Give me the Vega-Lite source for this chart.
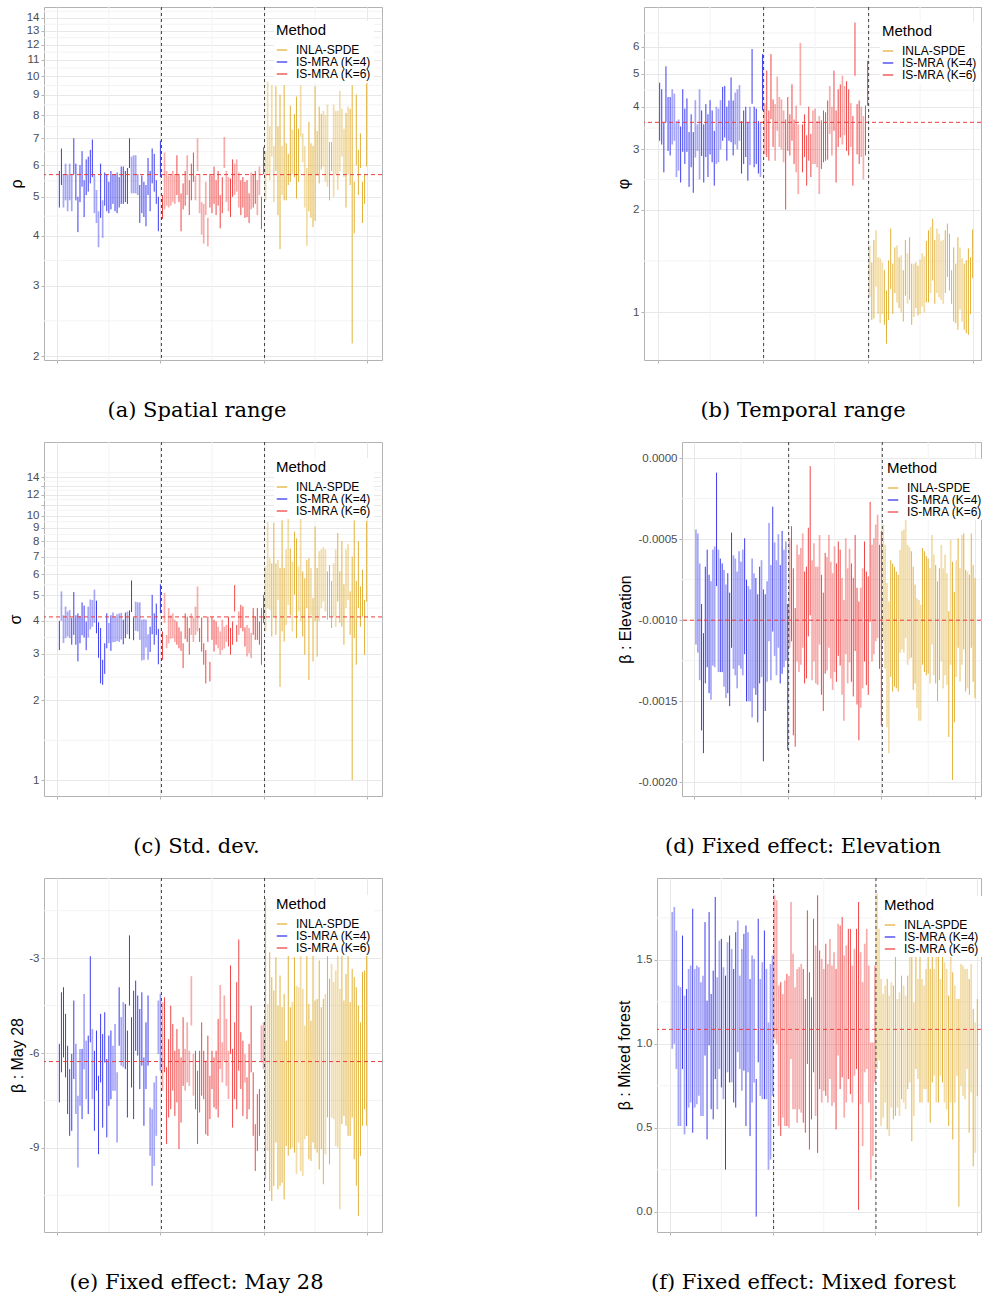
{
"$schema":"https://vega.github.io/schema/vega-lite/v6.json",
"padding":{"left":6,"top":6,"right":0,"bottom":0},
"background":"white",
"datasets":{
"a":[
{"i":1,"m":"B","o":1,"l":4.7,"h":5.8},{"i":2,"m":"B","o":1,"l":5.35,"h":6.6},{"i":3,"m":"B","o":0,"l":4.7,"h":5.7},{"i":4,"m":"B","o":0,"l":4.9,"h":6.05},{"i":5,"m":"B","o":0,"l":4.6,"h":5.7},{"i":6,"m":"B","o":0,"l":4.9,"h":6.05},{"i":7,"m":"B","o":0,"l":4.6,"h":5.7},{"i":8,"m":"B","o":1,"l":5.7,"h":7.0},{"i":9,"m":"B","o":1,"l":4.9,"h":6.05},{"i":10,"m":"B","o":1,"l":4.08,"h":5.0},
{"i":11,"m":"B","o":1,"l":4.85,"h":6.0},{"i":12,"m":"B","o":1,"l":5.3,"h":6.5},{"i":13,"m":"B","o":1,"l":4.45,"h":5.5},{"i":14,"m":"B","o":1,"l":5.05,"h":6.2},{"i":15,"m":"B","o":1,"l":5.15,"h":6.3},{"i":16,"m":"B","o":1,"l":5.4,"h":6.55},{"i":17,"m":"B","o":1,"l":5.6,"h":6.95},{"i":18,"m":"B","o":0,"l":4.55,"h":5.7},{"i":19,"m":"B","o":0,"l":4.3,"h":5.2},{"i":20,"m":"B","o":0,"l":3.74,"h":4.6},
{"i":21,"m":"B","o":1,"l":4.43,"h":6.05},{"i":22,"m":"B","o":0,"l":3.95,"h":4.9},{"i":23,"m":"B","o":1,"l":4.75,"h":5.75},{"i":24,"m":"B","o":1,"l":4.6,"h":5.7},{"i":25,"m":"B","o":1,"l":4.55,"h":5.45},{"i":26,"m":"B","o":1,"l":4.65,"h":5.8},{"i":27,"m":"B","o":1,"l":4.8,"h":5.7},{"i":28,"m":"B","o":1,"l":4.6,"h":5.7},{"i":29,"m":"B","o":1,"l":4.55,"h":5.75},{"i":30,"m":"B","o":1,"l":4.7,"h":5.6},
{"i":31,"m":"B","o":1,"l":4.8,"h":5.95},{"i":32,"m":"B","o":1,"l":4.8,"h":5.95},{"i":33,"m":"B","o":1,"l":4.85,"h":5.8},{"i":34,"m":"B","o":1,"l":4.8,"h":5.9},{"i":35,"m":"B","o":1,"l":5.9,"h":7.0},{"i":36,"m":"B","o":0,"l":5.1,"h":6.3},{"i":37,"m":"B","o":0,"l":5.1,"h":6.35},{"i":38,"m":"B","o":0,"l":5.1,"h":6.35},{"i":39,"m":"B","o":0,"l":5.05,"h":5.7},{"i":40,"m":"B","o":1,"l":4.3,"h":5.35},
{"i":41,"m":"B","o":1,"l":4.55,"h":5.65},{"i":42,"m":"B","o":1,"l":4.45,"h":5.45},{"i":43,"m":"B","o":1,"l":4.22,"h":5.35},{"i":44,"m":"B","o":1,"l":5.05,"h":6.25},{"i":45,"m":"B","o":1,"l":4.6,"h":5.8},{"i":46,"m":"B","o":1,"l":5.4,"h":6.6},{"i":47,"m":"B","o":1,"l":5.15,"h":6.4},{"i":48,"m":"B","o":1,"l":4.8,"h":5.5},{"i":49,"m":"B","o":1,"l":4.1,"h":5.0},{"i":50,"m":"B","o":1,"l":5.6,"h":6.9},
{"i":51,"m":"C","o":1,"l":4.4,"h":5.05},{"i":52,"m":"C","o":0,"l":4.65,"h":6.45},{"i":53,"m":"C","o":0,"l":4.75,"h":5.8},{"i":54,"m":"C","o":0,"l":4.7,"h":5.65},{"i":55,"m":"C","o":0,"l":4.75,"h":5.7},{"i":56,"m":"C","o":0,"l":4.85,"h":5.8},{"i":57,"m":"C","o":0,"l":4.8,"h":5.7},{"i":58,"m":"C","o":1,"l":5.05,"h":6.35},{"i":59,"m":"C","o":1,"l":4.85,"h":5.7},{"i":60,"m":"C","o":1,"l":4.1,"h":5.1},
{"i":61,"m":"C","o":1,"l":4.65,"h":5.4},{"i":62,"m":"C","o":1,"l":4.75,"h":5.8},{"i":63,"m":"C","o":0,"l":5.05,"h":6.35},{"i":64,"m":"C","o":1,"l":4.5,"h":5.5},{"i":65,"m":"C","o":1,"l":4.9,"h":6.05},{"i":66,"m":"C","o":1,"l":5.45,"h":6.45},{"i":67,"m":"C","o":0,"l":4.9,"h":5.65},{"i":68,"m":"C","o":0,"l":5.8,"h":7.0},{"i":69,"m":"C","o":0,"l":4.55,"h":5.7},{"i":70,"m":"C","o":0,"l":4.02,"h":4.85},
{"i":71,"m":"C","o":0,"l":3.82,"h":4.8},{"i":72,"m":"C","o":0,"l":4.5,"h":5.45},{"i":73,"m":"C","o":0,"l":3.76,"h":4.43},{"i":74,"m":"C","o":1,"l":4.7,"h":5.7},{"i":75,"m":"C","o":1,"l":4.55,"h":5.65},{"i":76,"m":"C","o":1,"l":4.8,"h":5.95},{"i":77,"m":"C","o":1,"l":4.5,"h":5.5},{"i":78,"m":"C","o":1,"l":4.75,"h":5.8},{"i":79,"m":"C","o":1,"l":4.17,"h":5.05},{"i":80,"m":"C","o":1,"l":4.55,"h":5.6},
{"i":81,"m":"C","o":0,"l":5.9,"h":7.05},{"i":82,"m":"C","o":0,"l":4.85,"h":5.8},{"i":83,"m":"C","o":0,"l":4.6,"h":5.6},{"i":84,"m":"C","o":1,"l":4.45,"h":5.55},{"i":85,"m":"C","o":1,"l":5.0,"h":6.2},{"i":86,"m":"C","o":0,"l":5.05,"h":6.05},{"i":87,"m":"C","o":0,"l":5.15,"h":6.2},{"i":88,"m":"C","o":0,"l":4.7,"h":5.75},{"i":89,"m":"C","o":1,"l":4.5,"h":5.5},{"i":90,"m":"C","o":1,"l":4.7,"h":5.6},
{"i":91,"m":"C","o":1,"l":4.43,"h":5.45},{"i":92,"m":"C","o":1,"l":4.45,"h":5.5},{"i":93,"m":"C","o":1,"l":4.3,"h":5.1},{"i":94,"m":"C","o":0,"l":4.65,"h":5.75},{"i":95,"m":"C","o":1,"l":4.7,"h":5.7},{"i":96,"m":"C","o":1,"l":4.8,"h":5.8},{"i":97,"m":"C","o":0,"l":4.5,"h":5.5},{"i":98,"m":"C","o":0,"l":5.05,"h":5.95},{"i":99,"m":"C","o":1,"l":4.15,"h":5.0},{"i":100,"m":"C","o":1,"l":5.7,"h":6.65},
{"i":101,"m":"A","o":0,"l":4.9,"h":6.5},{"i":102,"m":"A","o":0,"l":5.7,"h":9.7},{"i":103,"m":"A","o":0,"l":5.5,"h":7.5},{"i":104,"m":"A","o":0,"l":6.3,"h":9.5},{"i":105,"m":"A","o":0,"l":4.85,"h":6.7},{"i":106,"m":"A","o":1,"l":5.8,"h":9.45},{"i":107,"m":"A","o":1,"l":4.5,"h":7.5},{"i":108,"m":"A","o":1,"l":3.7,"h":9.0},{"i":109,"m":"A","o":0,"l":5.05,"h":6.7},{"i":110,"m":"A","o":1,"l":4.9,"h":9.5},
{"i":111,"m":"A","o":1,"l":4.9,"h":6.8},{"i":112,"m":"A","o":1,"l":5.35,"h":6.4},{"i":113,"m":"A","o":1,"l":5.45,"h":8.45},{"i":114,"m":"A","o":0,"l":5.7,"h":7.35},{"i":115,"m":"A","o":1,"l":5.6,"h":8.05},{"i":116,"m":"A","o":1,"l":4.95,"h":8.9},{"i":117,"m":"A","o":1,"l":5.45,"h":7.4},{"i":118,"m":"A","o":0,"l":7.05,"h":9.5},{"i":119,"m":"A","o":0,"l":6.1,"h":7.2},{"i":120,"m":"A","o":0,"l":4.7,"h":6.7},
{"i":121,"m":"A","o":0,"l":3.77,"h":5.9},{"i":122,"m":"A","o":1,"l":4.6,"h":7.7},{"i":123,"m":"A","o":1,"l":4.43,"h":6.8},{"i":124,"m":"A","o":1,"l":4.2,"h":6.7},{"i":125,"m":"A","o":1,"l":4.35,"h":9.45},{"i":126,"m":"A","o":1,"l":5.65,"h":7.3},{"i":127,"m":"A","o":1,"l":5.4,"h":8.4},{"i":128,"m":"A","o":1,"l":5.85,"h":8.05},{"i":129,"m":"A","o":0,"l":5.95,"h":8.2},{"i":130,"m":"A","o":0,"l":5.45,"h":8.0},
{"i":131,"m":"A","o":0,"l":5.3,"h":8.5},{"i":132,"m":"A","o":1,"l":4.9,"h":6.85},{"i":133,"m":"A","o":1,"l":5.8,"h":6.85},{"i":134,"m":"A","o":0,"l":5.0,"h":8.5},{"i":135,"m":"A","o":0,"l":5.7,"h":8.2},{"i":136,"m":"A","o":0,"l":5.2,"h":8.2},{"i":137,"m":"A","o":0,"l":5.8,"h":9.2},{"i":138,"m":"A","o":0,"l":6.3,"h":8.3},{"i":139,"m":"A","o":0,"l":5.6,"h":7.4},{"i":140,"m":"A","o":1,"l":4.7,"h":8.1},
{"i":141,"m":"A","o":0,"l":5.7,"h":8.4},{"i":142,"m":"A","o":1,"l":5.35,"h":8.3},{"i":143,"m":"A","o":1,"l":2.15,"h":9.5},{"i":144,"m":"A","o":1,"l":4.05,"h":5.45},{"i":145,"m":"A","o":1,"l":6.0,"h":9.0},{"i":146,"m":"A","o":1,"l":5.05,"h":6.55},{"i":147,"m":"A","o":1,"l":5.9,"h":7.2},{"i":148,"m":"A","o":1,"l":4.3,"h":5.45},{"i":149,"m":"A","o":1,"l":4.8,"h":5.7},{"i":150,"m":"A","o":1,"l":5.95,"h":9.6}
],
"b":[
{"i":1,"m":"B","o":1,"l":3.18,"h":4.7},{"i":2,"m":"B","o":1,"l":3.1,"h":4.5},{"i":3,"m":"B","o":1,"l":2.57,"h":3.6},{"i":4,"m":"B","o":1,"l":3.6,"h":5.25},{"i":5,"m":"B","o":1,"l":2.97,"h":4.27},{"i":6,"m":"B","o":1,"l":2.88,"h":4.27},{"i":7,"m":"B","o":0,"l":3.1,"h":4.5},{"i":8,"m":"B","o":0,"l":3.18,"h":4.37},{"i":9,"m":"B","o":0,"l":2.49,"h":3.63},{"i":10,"m":"B","o":0,"l":2.6,"h":3.67},
{"i":11,"m":"B","o":1,"l":2.4,"h":3.5},{"i":12,"m":"B","o":1,"l":2.95,"h":4.5},{"i":13,"m":"B","o":1,"l":2.72,"h":3.95},{"i":14,"m":"B","o":1,"l":2.95,"h":4.23},{"i":15,"m":"B","o":1,"l":2.33,"h":3.37},{"i":16,"m":"B","o":1,"l":2.66,"h":3.8},{"i":17,"m":"B","o":1,"l":2.24,"h":3.37},{"i":18,"m":"B","o":0,"l":2.84,"h":4.18},{"i":19,"m":"B","o":0,"l":2.97,"h":3.55},{"i":20,"m":"B","o":0,"l":2.45,"h":4.5},
{"i":21,"m":"B","o":1,"l":2.87,"h":3.9},{"i":22,"m":"B","o":1,"l":2.4,"h":3.55},{"i":23,"m":"B","o":1,"l":2.85,"h":4.07},{"i":24,"m":"B","o":1,"l":2.49,"h":3.8},{"i":25,"m":"B","o":1,"l":2.9,"h":4.18},{"i":26,"m":"B","o":1,"l":2.75,"h":3.9},{"i":27,"m":"B","o":1,"l":2.35,"h":3.4},{"i":28,"m":"B","o":0,"l":2.72,"h":4.0},{"i":29,"m":"B","o":0,"l":2.75,"h":3.95},{"i":30,"m":"B","o":0,"l":3.0,"h":4.18},
{"i":31,"m":"B","o":1,"l":3.18,"h":4.57},{"i":32,"m":"B","o":1,"l":3.25,"h":4.6},{"i":33,"m":"B","o":1,"l":2.78,"h":4.0},{"i":34,"m":"B","o":1,"l":3.18,"h":4.17},{"i":35,"m":"B","o":1,"l":3.15,"h":4.87},{"i":36,"m":"B","o":1,"l":2.88,"h":4.17},{"i":37,"m":"B","o":0,"l":3.1,"h":4.4},{"i":38,"m":"B","o":0,"l":3.0,"h":4.5},{"i":39,"m":"B","o":0,"l":3.18,"h":4.63},{"i":40,"m":"B","o":1,"l":2.55,"h":3.63},
{"i":41,"m":"B","o":1,"l":2.72,"h":3.9},{"i":42,"m":"B","o":1,"l":2.85,"h":4.0},{"i":43,"m":"B","o":1,"l":2.43,"h":3.6},{"i":44,"m":"B","o":0,"l":2.7,"h":4.0},{"i":45,"m":"B","o":1,"l":4.08,"h":5.9},{"i":46,"m":"B","o":1,"l":2.66,"h":4.0},{"i":47,"m":"B","o":1,"l":2.72,"h":3.95},{"i":48,"m":"B","o":1,"l":2.55,"h":3.63},{"i":49,"m":"B","o":0,"l":2.49,"h":3.6},{"i":50,"m":"B","o":1,"l":3.9,"h":5.7},
{"i":51,"m":"C","o":0,"l":2.9,"h":4.1},{"i":52,"m":"C","o":1,"l":2.85,"h":5.1},{"i":53,"m":"C","o":1,"l":2.78,"h":3.9},{"i":54,"m":"C","o":1,"l":3.68,"h":5.7},{"i":55,"m":"C","o":1,"l":3.05,"h":4.2},{"i":56,"m":"C","o":0,"l":2.78,"h":4.07},{"i":57,"m":"C","o":0,"l":3.4,"h":4.9},{"i":58,"m":"C","o":0,"l":3.05,"h":4.27},{"i":59,"m":"C","o":0,"l":3.0,"h":4.2},{"i":60,"m":"C","o":0,"l":2.75,"h":3.9},
{"i":61,"m":"C","o":1,"l":2.0,"h":3.67},{"i":62,"m":"C","o":1,"l":2.97,"h":4.27},{"i":63,"m":"C","o":1,"l":2.88,"h":3.8},{"i":64,"m":"C","o":1,"l":3.18,"h":4.65},{"i":65,"m":"C","o":1,"l":2.72,"h":3.67},{"i":66,"m":"C","o":0,"l":2.57,"h":4.03},{"i":67,"m":"C","o":0,"l":2.22,"h":3.55},{"i":68,"m":"C","o":0,"l":4.03,"h":6.15},{"i":69,"m":"C","o":1,"l":2.57,"h":3.55},{"i":70,"m":"C","o":1,"l":2.85,"h":3.8},
{"i":71,"m":"C","o":1,"l":2.35,"h":3.3},{"i":72,"m":"C","o":1,"l":2.78,"h":4.0},{"i":73,"m":"C","o":1,"l":2.49,"h":3.33},{"i":74,"m":"C","o":0,"l":2.72,"h":3.9},{"i":75,"m":"C","o":0,"l":2.72,"h":3.95},{"i":76,"m":"C","o":0,"l":2.66,"h":3.63},{"i":77,"m":"C","o":0,"l":2.22,"h":3.76},{"i":78,"m":"C","o":1,"l":2.63,"h":3.65},{"i":79,"m":"C","o":1,"l":2.75,"h":3.9},{"i":80,"m":"C","o":1,"l":2.78,"h":3.85},
{"i":81,"m":"C","o":1,"l":2.8,"h":4.17},{"i":82,"m":"C","o":0,"l":3.33,"h":4.6},{"i":83,"m":"C","o":0,"l":2.88,"h":4.0},{"i":84,"m":"C","o":1,"l":3.4,"h":5.1},{"i":85,"m":"C","o":1,"l":2.4,"h":3.9},{"i":86,"m":"C","o":1,"l":3.05,"h":4.5},{"i":87,"m":"C","o":1,"l":3.25,"h":4.65},{"i":88,"m":"C","o":0,"l":3.1,"h":4.93},{"i":89,"m":"C","o":0,"l":3.3,"h":4.6},{"i":90,"m":"C","o":1,"l":2.97,"h":4.75},
{"i":91,"m":"C","o":1,"l":2.88,"h":4.5},{"i":92,"m":"C","o":0,"l":3.05,"h":4.1},{"i":93,"m":"C","o":1,"l":2.35,"h":3.76},{"i":94,"m":"C","o":1,"l":4.93,"h":7.05},{"i":95,"m":"C","o":1,"l":2.9,"h":4.07},{"i":96,"m":"C","o":1,"l":2.72,"h":4.17},{"i":97,"m":"C","o":0,"l":2.85,"h":4.0},{"i":98,"m":"C","o":0,"l":2.45,"h":3.76},{"i":99,"m":"C","o":1,"l":2.88,"h":4.03},{"i":100,"m":"C","o":1,"l":4.03,"h":5.45},
{"i":101,"m":"A","o":0,"l":1.11,"h":1.57},{"i":102,"m":"A","o":1,"l":0.95,"h":1.4},{"i":103,"m":"A","o":1,"l":0.96,"h":1.63},{"i":104,"m":"A","o":0,"l":1.19,"h":1.74},{"i":105,"m":"A","o":0,"l":0.99,"h":1.45},{"i":106,"m":"A","o":0,"l":0.93,"h":1.44},{"i":107,"m":"A","o":0,"l":0.99,"h":1.4},{"i":108,"m":"A","o":1,"l":0.92,"h":1.33},{"i":109,"m":"A","o":1,"l":0.81,"h":1.16},{"i":110,"m":"A","o":1,"l":0.95,"h":1.42},
{"i":111,"m":"A","o":1,"l":1.17,"h":1.76},{"i":112,"m":"A","o":1,"l":0.99,"h":1.39},{"i":113,"m":"A","o":1,"l":1.14,"h":1.55},{"i":114,"m":"A","o":0,"l":1.07,"h":1.57},{"i":115,"m":"A","o":1,"l":1.03,"h":1.45},{"i":116,"m":"A","o":0,"l":1.0,"h":1.47},{"i":117,"m":"A","o":1,"l":0.94,"h":1.33},{"i":118,"m":"A","o":1,"l":1.12,"h":1.63},{"i":119,"m":"A","o":0,"l":1.06,"h":1.49},{"i":120,"m":"A","o":1,"l":1.09,"h":1.66},
{"i":121,"m":"A","o":1,"l":0.92,"h":1.39},{"i":122,"m":"A","o":0,"l":0.97,"h":1.39},{"i":123,"m":"A","o":1,"l":1.03,"h":1.4},{"i":124,"m":"A","o":1,"l":0.98,"h":1.37},{"i":125,"m":"A","o":0,"l":0.99,"h":1.43},{"i":126,"m":"A","o":0,"l":1.04,"h":1.49},{"i":127,"m":"A","o":0,"l":1.0,"h":1.46},{"i":128,"m":"A","o":1,"l":1.07,"h":1.62},{"i":129,"m":"A","o":1,"l":1.07,"h":1.74},{"i":130,"m":"A","o":0,"l":1.14,"h":1.78},
{"i":131,"m":"A","o":1,"l":1.24,"h":1.88},{"i":132,"m":"A","o":1,"l":1.06,"h":1.63},{"i":133,"m":"A","o":0,"l":1.14,"h":1.76},{"i":134,"m":"A","o":0,"l":1.11,"h":1.7},{"i":135,"m":"A","o":0,"l":1.09,"h":1.62},{"i":136,"m":"A","o":0,"l":1.06,"h":1.63},{"i":137,"m":"A","o":1,"l":1.14,"h":1.74},{"i":138,"m":"A","o":1,"l":1.27,"h":1.82},{"i":139,"m":"A","o":1,"l":1.16,"h":1.7},{"i":140,"m":"A","o":1,"l":1.06,"h":1.33},
{"i":141,"m":"A","o":1,"l":0.94,"h":1.55},{"i":142,"m":"A","o":1,"l":0.93,"h":1.39},{"i":143,"m":"A","o":1,"l":0.89,"h":1.66},{"i":144,"m":"A","o":0,"l":1.02,"h":1.55},{"i":145,"m":"A","o":0,"l":0.94,"h":1.44},{"i":146,"m":"A","o":1,"l":0.89,"h":1.39},{"i":147,"m":"A","o":1,"l":0.87,"h":1.42},{"i":148,"m":"A","o":1,"l":0.86,"h":1.54},{"i":149,"m":"A","o":1,"l":0.99,"h":1.45},{"i":150,"m":"A","o":1,"l":1.26,"h":1.75}
],
"c":[
{"i":1,"m":"B","o":1,"l":3.1,"h":4.0},{"i":2,"m":"B","o":0,"l":4.0,"h":5.17},{"i":3,"m":"B","o":0,"l":3.3,"h":4.2},{"i":4,"m":"B","o":0,"l":3.44,"h":4.53},{"i":5,"m":"B","o":0,"l":3.49,"h":4.34},{"i":6,"m":"B","o":0,"l":3.44,"h":4.4},{"i":7,"m":"B","o":1,"l":3.25,"h":4.1},{"i":8,"m":"B","o":1,"l":3.54,"h":5.14},{"i":9,"m":"B","o":1,"l":3.25,"h":4.2},{"i":10,"m":"B","o":1,"l":2.81,"h":4.27},
{"i":11,"m":"B","o":1,"l":3.29,"h":4.17},{"i":12,"m":"B","o":1,"l":3.53,"h":4.7},{"i":13,"m":"B","o":1,"l":3.46,"h":4.57},{"i":14,"m":"B","o":1,"l":3.1,"h":3.98},{"i":15,"m":"B","o":0,"l":3.46,"h":4.53},{"i":16,"m":"B","o":0,"l":3.71,"h":4.82},{"i":17,"m":"B","o":0,"l":3.8,"h":4.8},{"i":18,"m":"B","o":0,"l":3.93,"h":5.25},{"i":19,"m":"B","o":1,"l":3.59,"h":4.77},{"i":20,"m":"B","o":1,"l":2.9,"h":3.95},
{"i":21,"m":"B","o":1,"l":2.32,"h":3.76},{"i":22,"m":"B","o":1,"l":2.29,"h":2.85},{"i":23,"m":"B","o":1,"l":2.52,"h":3.29},{"i":24,"m":"B","o":1,"l":3.15,"h":4.27},{"i":25,"m":"B","o":0,"l":3.3,"h":3.93},{"i":26,"m":"B","o":1,"l":3.08,"h":4.2},{"i":27,"m":"B","o":0,"l":3.32,"h":4.3},{"i":28,"m":"B","o":0,"l":3.33,"h":4.15},{"i":29,"m":"B","o":0,"l":3.36,"h":4.24},{"i":30,"m":"B","o":0,"l":3.33,"h":4.27},
{"i":31,"m":"B","o":0,"l":3.4,"h":4.29},{"i":32,"m":"B","o":1,"l":3.26,"h":4.04},{"i":33,"m":"B","o":1,"l":3.44,"h":4.3},{"i":34,"m":"B","o":0,"l":3.56,"h":4.34},{"i":35,"m":"B","o":1,"l":3.42,"h":4.38},{"i":36,"m":"B","o":1,"l":4.32,"h":5.69},{"i":37,"m":"B","o":1,"l":3.38,"h":4.12},{"i":38,"m":"B","o":0,"l":3.67,"h":4.73},{"i":39,"m":"B","o":0,"l":3.65,"h":4.7},{"i":40,"m":"B","o":0,"l":3.39,"h":4.7},
{"i":41,"m":"B","o":0,"l":2.83,"h":4.04},{"i":42,"m":"B","o":0,"l":2.85,"h":4.06},{"i":43,"m":"B","o":0,"l":3.17,"h":4.04},{"i":44,"m":"B","o":0,"l":2.85,"h":3.56},{"i":45,"m":"B","o":1,"l":3.05,"h":3.8},{"i":46,"m":"B","o":1,"l":3.56,"h":5.02},{"i":47,"m":"B","o":1,"l":3.25,"h":4.27},{"i":48,"m":"B","o":1,"l":3.54,"h":4.65},{"i":49,"m":"B","o":1,"l":2.74,"h":3.73},{"i":50,"m":"B","o":1,"l":4.28,"h":5.5},
{"i":51,"m":"C","o":1,"l":2.85,"h":3.65},{"i":52,"m":"C","o":0,"l":3.93,"h":5.1},{"i":53,"m":"C","o":0,"l":3.15,"h":3.54},{"i":54,"m":"C","o":0,"l":3.29,"h":4.47},{"i":55,"m":"C","o":0,"l":3.42,"h":4.2},{"i":56,"m":"C","o":0,"l":3.44,"h":4.27},{"i":57,"m":"C","o":0,"l":3.33,"h":4.04},{"i":58,"m":"C","o":1,"l":3.25,"h":3.98},{"i":59,"m":"C","o":1,"l":3.15,"h":3.78},{"i":60,"m":"C","o":1,"l":3.08,"h":3.65},
{"i":61,"m":"C","o":1,"l":2.65,"h":3.29},{"i":62,"m":"C","o":1,"l":3.42,"h":4.27},{"i":63,"m":"C","o":1,"l":3.33,"h":4.15},{"i":64,"m":"C","o":1,"l":2.98,"h":3.76},{"i":65,"m":"C","o":0,"l":3.54,"h":4.27},{"i":66,"m":"C","o":0,"l":3.33,"h":4.12},{"i":67,"m":"C","o":0,"l":3.54,"h":4.53},{"i":68,"m":"C","o":0,"l":3.65,"h":5.4},{"i":69,"m":"C","o":1,"l":3.33,"h":3.76},{"i":70,"m":"C","o":1,"l":3.06,"h":4.12},
{"i":71,"m":"C","o":1,"l":2.73,"h":3.29},{"i":72,"m":"C","o":1,"l":2.32,"h":3.1},{"i":73,"m":"C","o":1,"l":3.33,"h":4.15},{"i":74,"m":"C","o":1,"l":2.36,"h":2.8},{"i":75,"m":"C","o":1,"l":3.39,"h":4.15},{"i":76,"m":"C","o":1,"l":3.06,"h":4.04},{"i":77,"m":"C","o":1,"l":3.25,"h":3.98},{"i":78,"m":"C","o":0,"l":3.15,"h":3.8},{"i":79,"m":"C","o":0,"l":2.98,"h":3.65},{"i":80,"m":"C","o":0,"l":3.1,"h":4.04},
{"i":81,"m":"C","o":0,"l":3.15,"h":3.8},{"i":82,"m":"C","o":0,"l":3.33,"h":3.86},{"i":83,"m":"C","o":1,"l":3.2,"h":4.15},{"i":84,"m":"C","o":1,"l":2.98,"h":3.76},{"i":85,"m":"C","o":1,"l":3.25,"h":3.98},{"i":86,"m":"C","o":1,"l":4.34,"h":5.46},{"i":87,"m":"C","o":1,"l":3.33,"h":3.86},{"i":88,"m":"C","o":0,"l":3.54,"h":4.34},{"i":89,"m":"C","o":1,"l":3.76,"h":4.6},{"i":90,"m":"C","o":1,"l":3.65,"h":4.53},
{"i":91,"m":"C","o":1,"l":3.2,"h":3.78},{"i":92,"m":"C","o":0,"l":2.93,"h":3.86},{"i":93,"m":"C","o":0,"l":3.02,"h":3.76},{"i":94,"m":"C","o":0,"l":2.89,"h":3.6},{"i":95,"m":"C","o":1,"l":3.54,"h":4.47},{"i":96,"m":"C","o":1,"l":3.39,"h":4.15},{"i":97,"m":"C","o":1,"l":3.39,"h":4.47},{"i":98,"m":"C","o":1,"l":3.25,"h":3.98},{"i":99,"m":"C","o":1,"l":2.73,"h":4.47},{"i":100,"m":"C","o":1,"l":3.93,"h":5.02},
{"i":101,"m":"A","o":0,"l":3.65,"h":6.42},{"i":102,"m":"A","o":0,"l":4.47,"h":9.45},{"i":103,"m":"A","o":0,"l":4.4,"h":6.9},{"i":104,"m":"A","o":1,"l":3.49,"h":6.6},{"i":105,"m":"A","o":1,"l":4.15,"h":9.4},{"i":106,"m":"A","o":1,"l":3.54,"h":6.6},{"i":107,"m":"A","o":0,"l":4.8,"h":6.8},{"i":108,"m":"A","o":1,"l":2.25,"h":6.34},{"i":109,"m":"A","o":1,"l":3.65,"h":9.6},{"i":110,"m":"A","o":1,"l":3.34,"h":6.34},
{"i":111,"m":"A","o":0,"l":3.86,"h":7.45},{"i":112,"m":"A","o":0,"l":4.6,"h":9.75},{"i":113,"m":"A","o":1,"l":4.2,"h":7.5},{"i":114,"m":"A","o":0,"l":3.65,"h":6.7},{"i":115,"m":"A","o":1,"l":5.02,"h":8.7},{"i":116,"m":"A","o":1,"l":3.44,"h":8.2},{"i":117,"m":"A","o":0,"l":4.34,"h":6.42},{"i":118,"m":"A","o":0,"l":3.98,"h":9.75},{"i":119,"m":"A","o":1,"l":3.49,"h":6.15},{"i":120,"m":"A","o":1,"l":2.98,"h":5.8},
{"i":121,"m":"A","o":1,"l":4.47,"h":6.8},{"i":122,"m":"A","o":1,"l":2.39,"h":6.9},{"i":123,"m":"A","o":0,"l":4.2,"h":6.34},{"i":124,"m":"A","o":1,"l":2.81,"h":4.88},{"i":125,"m":"A","o":1,"l":3.98,"h":9.1},{"i":126,"m":"A","o":1,"l":2.93,"h":6.34},{"i":127,"m":"A","o":0,"l":3.98,"h":7.34},{"i":128,"m":"A","o":0,"l":4.47,"h":7.45},{"i":129,"m":"A","o":0,"l":4.73,"h":7.6},{"i":130,"m":"A","o":0,"l":4.34,"h":7.45},
{"i":131,"m":"A","o":1,"l":4.04,"h":6.15},{"i":132,"m":"A","o":1,"l":4.15,"h":6.5},{"i":133,"m":"A","o":1,"l":3.76,"h":5.66},{"i":134,"m":"A","o":0,"l":4.15,"h":6.6},{"i":135,"m":"A","o":0,"l":3.8,"h":7.45},{"i":136,"m":"A","o":1,"l":4.73,"h":8.6},{"i":137,"m":"A","o":1,"l":3.93,"h":6.15},{"i":138,"m":"A","o":1,"l":3.8,"h":8.0},{"i":139,"m":"A","o":1,"l":3.25,"h":5.5},{"i":140,"m":"A","o":0,"l":4.47,"h":7.45},
{"i":141,"m":"A","o":0,"l":4.8,"h":7.8},{"i":142,"m":"A","o":1,"l":3.54,"h":5.17},{"i":143,"m":"A","o":1,"l":1.0,"h":7.0},{"i":144,"m":"A","o":1,"l":3.44,"h":9.6},{"i":145,"m":"A","o":1,"l":2.73,"h":5.66},{"i":146,"m":"A","o":1,"l":4.47,"h":8.0},{"i":147,"m":"A","o":1,"l":3.8,"h":5.4},{"i":148,"m":"A","o":1,"l":4.15,"h":6.25},{"i":149,"m":"A","o":1,"l":2.98,"h":4.8},{"i":150,"m":"A","o":1,"l":4.73,"h":9.55}
],
"d":[
{"i":1,"m":"B","o":0,"l":-0.00115,"h":-0.00044},{"i":2,"m":"B","o":0,"l":-0.0012,"h":-0.000465},{"i":3,"m":"B","o":0,"l":-0.00137,"h":-0.00065},{"i":4,"m":"B","o":1,"l":-0.00168,"h":-0.0009},{"i":5,"m":"B","o":1,"l":-0.00182,"h":-0.00108},{"i":6,"m":"B","o":1,"l":-0.00139,"h":-0.00067},{"i":7,"m":"B","o":1,"l":-0.00129,"h":-0.000565},{"i":8,"m":"B","o":1,"l":-0.00145,"h":-0.00072},{"i":9,"m":"B","o":0,"l":-0.00149,"h":-0.00076},{"i":10,"m":"B","o":0,"l":-0.00128,"h":-0.000565},
{"i":11,"m":"B","o":0,"l":-0.00129,"h":-0.000545},{"i":12,"m":"B","o":1,"l":-0.00079,"h":-0.00009},{"i":13,"m":"B","o":0,"l":-0.00132,"h":-0.000565},{"i":14,"m":"B","o":1,"l":-0.00132,"h":-0.00062},{"i":15,"m":"B","o":1,"l":-0.00132,"h":-0.00065},{"i":16,"m":"B","o":0,"l":-0.00141,"h":-0.00069},{"i":17,"m":"B","o":0,"l":-0.00148,"h":-0.00078},{"i":18,"m":"B","o":1,"l":-0.00145,"h":-0.00071},{"i":19,"m":"B","o":1,"l":-0.00153,"h":-0.00083},{"i":20,"m":"B","o":1,"l":-0.00117,"h":-0.00046},
{"i":21,"m":"B","o":0,"l":-0.0013,"h":-0.0006},{"i":22,"m":"B","o":0,"l":-0.00134,"h":-0.00062},{"i":23,"m":"B","o":0,"l":-0.00142,"h":-0.0007},{"i":24,"m":"B","o":0,"l":-0.00128,"h":-0.000575},{"i":25,"m":"B","o":0,"l":-0.0013,"h":-0.00064},{"i":26,"m":"B","o":0,"l":-0.00134,"h":-0.000565},{"i":27,"m":"B","o":1,"l":-0.00121,"h":-0.000495},{"i":28,"m":"B","o":1,"l":-0.0015,"h":-0.00075},{"i":29,"m":"B","o":0,"l":-0.0015,"h":-0.00079},{"i":30,"m":"B","o":0,"l":-0.0015,"h":-0.00081},
{"i":31,"m":"B","o":0,"l":-0.0016,"h":-0.00062},{"i":32,"m":"B","o":0,"l":-0.00142,"h":-0.00071},{"i":33,"m":"B","o":1,"l":-0.00146,"h":-0.00074},{"i":34,"m":"B","o":1,"l":-0.00163,"h":-0.00084},{"i":35,"m":"B","o":1,"l":-0.00139,"h":-0.00067},{"i":36,"m":"B","o":0,"l":-0.00135,"h":-0.00063},{"i":37,"m":"B","o":1,"l":-0.00187,"h":-0.00081},{"i":38,"m":"B","o":1,"l":-0.00156,"h":-0.00084},{"i":39,"m":"B","o":0,"l":-0.00138,"h":-0.00076},{"i":40,"m":"B","o":0,"l":-0.00113,"h":-0.0004},
{"i":41,"m":"B","o":0,"l":-0.00137,"h":-0.00066},{"i":42,"m":"B","o":1,"l":-0.00107,"h":-0.0003},{"i":43,"m":"B","o":0,"l":-0.00122,"h":-0.00052},{"i":44,"m":"B","o":0,"l":-0.00134,"h":-0.00063},{"i":45,"m":"B","o":0,"l":-0.00117,"h":-0.00047},{"i":46,"m":"B","o":1,"l":-0.00139,"h":-0.00066},{"i":47,"m":"B","o":1,"l":-0.00133,"h":-0.00045},{"i":48,"m":"B","o":0,"l":-0.00129,"h":-0.000565},{"i":49,"m":"B","o":0,"l":-0.00125,"h":-0.000515},{"i":50,"m":"B","o":1,"l":-0.0018,"h":-0.0009},
{"i":51,"m":"C","o":0,"l":-0.00117,"h":-0.000495},{"i":52,"m":"C","o":1,"l":-0.00113,"h":-0.00042},{"i":53,"m":"C","o":1,"l":-0.00171,"h":-0.00068},{"i":54,"m":"C","o":1,"l":-0.00178,"h":-0.000925},{"i":55,"m":"C","o":0,"l":-0.001255,"h":-0.000535},{"i":56,"m":"C","o":0,"l":-0.00132,"h":-0.000595},{"i":57,"m":"C","o":0,"l":-0.001275,"h":-0.000555},{"i":58,"m":"C","o":0,"l":-0.00117,"h":-0.000465},{"i":59,"m":"C","o":1,"l":-0.00139,"h":-0.0007},{"i":60,"m":"C","o":1,"l":-0.00136,"h":-0.00067},
{"i":61,"m":"C","o":1,"l":-0.0011,"h":-0.00043},{"i":62,"m":"C","o":1,"l":-0.00097,"h":-0.00005},{"i":63,"m":"C","o":0,"l":-0.00137,"h":-0.00063},{"i":64,"m":"C","o":0,"l":-0.001255,"h":-0.000525},{"i":65,"m":"C","o":0,"l":-0.00139,"h":-0.00067},{"i":66,"m":"C","o":0,"l":-0.0014,"h":-0.00067},{"i":67,"m":"C","o":0,"l":-0.00115,"h":-0.000475},{"i":68,"m":"C","o":1,"l":-0.00146,"h":-0.00072},{"i":69,"m":"C","o":1,"l":-0.00156,"h":-0.00083},{"i":70,"m":"C","o":1,"l":-0.00133,"h":-0.000585},
{"i":71,"m":"C","o":0,"l":-0.00131,"h":-0.00061},{"i":72,"m":"C","o":0,"l":-0.00117,"h":-0.000475},{"i":73,"m":"C","o":0,"l":-0.00136,"h":-0.00064},{"i":74,"m":"C","o":0,"l":-0.00143,"h":-0.00071},{"i":75,"m":"C","o":0,"l":-0.00132,"h":-0.000545},{"i":76,"m":"C","o":1,"l":-0.00138,"h":-0.00065},{"i":77,"m":"C","o":1,"l":-0.00122,"h":-0.000515},{"i":78,"m":"C","o":1,"l":-0.00128,"h":-0.000565},{"i":79,"m":"C","o":0,"l":-0.00146,"h":-0.00074},{"i":80,"m":"C","o":0,"l":-0.00162,"h":-0.000875},
{"i":81,"m":"C","o":0,"l":-0.00121,"h":-0.000495},{"i":82,"m":"C","o":0,"l":-0.00139,"h":-0.00068},{"i":83,"m":"C","o":0,"l":-0.00126,"h":-0.00056},{"i":84,"m":"C","o":1,"l":-0.00138,"h":-0.00065},{"i":85,"m":"C","o":1,"l":-0.00147,"h":-0.00074},{"i":86,"m":"C","o":1,"l":-0.00119,"h":-0.000475},{"i":87,"m":"C","o":1,"l":-0.00152,"h":-0.0008},{"i":88,"m":"C","o":1,"l":-0.00174,"h":-0.000885},{"i":89,"m":"C","o":0,"l":-0.00154,"h":-0.0008},{"i":90,"m":"C","o":0,"l":-0.00142,"h":-0.00068},
{"i":91,"m":"C","o":1,"l":-0.001255,"h":-0.000515},{"i":92,"m":"C","o":1,"l":-0.0014,"h":-0.0007},{"i":93,"m":"C","o":1,"l":-0.00146,"h":-0.00073},{"i":94,"m":"C","o":1,"l":-0.00101,"h":-0.00027},{"i":95,"m":"C","o":0,"l":-0.001255,"h":-0.000535},{"i":96,"m":"C","o":0,"l":-0.00121,"h":-0.000495},{"i":97,"m":"C","o":0,"l":-0.00113,"h":-0.00041},{"i":98,"m":"C","o":0,"l":-0.00111,"h":-0.00035},{"i":99,"m":"C","o":1,"l":-0.0013,"h":-0.000535},{"i":100,"m":"C","o":1,"l":-0.00165,"h":-0.00045},
{"i":101,"m":"A","o":0,"l":-0.00113,"h":-0.00041},{"i":102,"m":"A","o":0,"l":-0.0013,"h":-0.000535},{"i":103,"m":"A","o":0,"l":-0.00166,"h":-0.00077},{"i":104,"m":"A","o":0,"l":-0.00182,"h":-0.000885},{"i":105,"m":"A","o":1,"l":-0.00135,"h":-0.00063},{"i":106,"m":"A","o":1,"l":-0.00144,"h":-0.00065},{"i":107,"m":"A","o":1,"l":-0.00141,"h":-0.00067},{"i":108,"m":"A","o":1,"l":-0.00142,"h":-0.0007},{"i":109,"m":"A","o":1,"l":-0.00144,"h":-0.00072},{"i":110,"m":"A","o":0,"l":-0.0012,"h":-0.000565},
{"i":111,"m":"A","o":0,"l":-0.00118,"h":-0.00045},{"i":112,"m":"A","o":0,"l":-0.0012,"h":-0.00044},{"i":113,"m":"A","o":0,"l":-0.00111,"h":-0.00038},{"i":114,"m":"A","o":0,"l":-0.001275,"h":-0.000535},{"i":115,"m":"A","o":0,"l":-0.00124,"h":-0.00055},{"i":116,"m":"A","o":1,"l":-0.00123,"h":-0.000575},{"i":117,"m":"A","o":1,"l":-0.00143,"h":-0.00067},{"i":118,"m":"A","o":1,"l":-0.00139,"h":-0.00078},{"i":119,"m":"A","o":0,"l":-0.00154,"h":-0.000865},{"i":120,"m":"A","o":0,"l":-0.00162,"h":-0.000875},
{"i":121,"m":"A","o":0,"l":-0.00162,"h":-0.000905},{"i":122,"m":"A","o":1,"l":-0.001275,"h":-0.000555},{"i":123,"m":"A","o":1,"l":-0.00132,"h":-0.000575},{"i":124,"m":"A","o":1,"l":-0.00134,"h":-0.000605},{"i":125,"m":"A","o":1,"l":-0.00133,"h":-0.00062},{"i":126,"m":"A","o":0,"l":-0.00139,"h":-0.00068},{"i":127,"m":"A","o":0,"l":-0.00115,"h":-0.000475},{"i":128,"m":"A","o":0,"l":-0.00134,"h":-0.000595},{"i":129,"m":"A","o":1,"l":-0.00139,"h":-0.00066},{"i":130,"m":"A","o":1,"l":-0.0015,"h":-0.00076},
{"i":131,"m":"A","o":1,"l":-0.00137,"h":-0.00068},{"i":132,"m":"A","o":0,"l":-0.001255,"h":-0.000535},{"i":133,"m":"A","o":0,"l":-0.00142,"h":-0.00068},{"i":134,"m":"A","o":0,"l":-0.00134,"h":-0.000595},{"i":135,"m":"A","o":0,"l":-0.0014,"h":-0.00071},{"i":136,"m":"A","o":1,"l":-0.00172,"h":-0.000945},{"i":137,"m":"A","o":0,"l":-0.001275,"h":-0.000505},{"i":138,"m":"A","o":1,"l":-0.001985,"h":-0.00064},{"i":139,"m":"A","o":1,"l":-0.00163,"h":-0.000825},{"i":140,"m":"A","o":0,"l":-0.00135,"h":-0.00063},
{"i":141,"m":"A","o":1,"l":-0.00117,"h":-0.000495},{"i":142,"m":"A","o":0,"l":-0.00138,"h":-0.00068},{"i":143,"m":"A","o":0,"l":-0.001275,"h":-0.000475},{"i":144,"m":"A","o":1,"l":-0.00118,"h":-0.000465},{"i":145,"m":"A","o":1,"l":-0.00144,"h":-0.00069},{"i":146,"m":"A","o":0,"l":-0.00142,"h":-0.0007},{"i":147,"m":"A","o":1,"l":-0.00146,"h":-0.00072},{"i":148,"m":"A","o":1,"l":-0.00117,"h":-0.000465},{"i":149,"m":"A","o":1,"l":-0.00138,"h":-0.00066},{"i":150,"m":"A","o":1,"l":-0.00148,"h":-0.00074}
],
"e":[
{"i":1,"m":"B","o":1,"l":-7.56,"h":-5.71},{"i":2,"m":"B","o":1,"l":-6.61,"h":-4.08},{"i":3,"m":"B","o":1,"l":-6.14,"h":-3.92},{"i":4,"m":"B","o":1,"l":-6.77,"h":-4.76},{"i":5,"m":"B","o":1,"l":-7.93,"h":-5.77},{"i":6,"m":"B","o":1,"l":-8.62,"h":-6.51},{"i":7,"m":"B","o":1,"l":-8.46,"h":-6.03},{"i":8,"m":"B","o":1,"l":-6.82,"h":-4.34},{"i":9,"m":"B","o":0,"l":-7.93,"h":-5.71},{"i":10,"m":"B","o":0,"l":-9.62,"h":-7.35},
{"i":11,"m":"B","o":0,"l":-7.67,"h":-5.87},{"i":12,"m":"B","o":1,"l":-8.09,"h":-5.87},{"i":13,"m":"B","o":0,"l":-6.51,"h":-4.13},{"i":14,"m":"B","o":0,"l":-7.46,"h":-5.61},{"i":15,"m":"B","o":1,"l":-7.93,"h":-5.45},{"i":16,"m":"B","o":1,"l":-5.66,"h":-2.94},{"i":17,"m":"B","o":0,"l":-7.46,"h":-5.24},{"i":18,"m":"B","o":1,"l":-8.46,"h":-5.93},{"i":19,"m":"B","o":1,"l":-7.19,"h":-5.29},{"i":20,"m":"B","o":1,"l":-9.2,"h":-6.72},
{"i":21,"m":"B","o":1,"l":-6.93,"h":-4.76},{"i":22,"m":"B","o":1,"l":-8.36,"h":-5.4},{"i":23,"m":"B","o":1,"l":-6.3,"h":-4.71},{"i":24,"m":"B","o":1,"l":-8.67,"h":-6.19},{"i":25,"m":"B","o":1,"l":-7.67,"h":-5.45},{"i":26,"m":"B","o":1,"l":-7.46,"h":-5.29},{"i":27,"m":"B","o":0,"l":-7.19,"h":-5.77},{"i":28,"m":"B","o":0,"l":-7.19,"h":-5.08},{"i":29,"m":"B","o":0,"l":-8.83,"h":-6.61},{"i":30,"m":"B","o":1,"l":-5.77,"h":-3.92},
{"i":31,"m":"B","o":0,"l":-6.4,"h":-4.86},{"i":32,"m":"B","o":0,"l":-6.45,"h":-4.39},{"i":33,"m":"B","o":1,"l":-6.51,"h":-4.45},{"i":34,"m":"B","o":1,"l":-8.04,"h":-5.29},{"i":35,"m":"B","o":1,"l":-4.5,"h":-2.28},{"i":36,"m":"B","o":1,"l":-7.09,"h":-4.87},{"i":37,"m":"B","o":1,"l":-8.09,"h":-4.03},{"i":38,"m":"B","o":1,"l":-5.93,"h":-3.71},{"i":39,"m":"B","o":1,"l":-6.08,"h":-4.18},{"i":40,"m":"B","o":1,"l":-7.14,"h":-4.61},
{"i":41,"m":"B","o":1,"l":-6.4,"h":-4.08},{"i":42,"m":"B","o":1,"l":-8.3,"h":-6.14},{"i":43,"m":"B","o":1,"l":-7.14,"h":-5.03},{"i":44,"m":"B","o":1,"l":-6.4,"h":-4.18},{"i":45,"m":"B","o":0,"l":-9.25,"h":-7.72},{"i":46,"m":"B","o":0,"l":-10.2,"h":-7.78},{"i":47,"m":"B","o":0,"l":-9.57,"h":-6.93},{"i":48,"m":"B","o":0,"l":-8.62,"h":-6.72},{"i":49,"m":"B","o":0,"l":-6.03,"h":-4.34},{"i":50,"m":"B","o":0,"l":-6.56,"h":-4.13},
{"i":51,"m":"C","o":0,"l":-7.19,"h":-4.39},{"i":52,"m":"C","o":1,"l":-6.61,"h":-4.24},{"i":53,"m":"C","o":1,"l":-8.88,"h":-6.45},{"i":54,"m":"C","o":1,"l":-8.04,"h":-5.56},{"i":55,"m":"C","o":1,"l":-7.78,"h":-4.5},{"i":56,"m":"C","o":1,"l":-7.19,"h":-5.08},{"i":57,"m":"C","o":1,"l":-7.99,"h":-5.93},{"i":58,"m":"C","o":1,"l":-7.56,"h":-5.24},{"i":59,"m":"C","o":1,"l":-9.04,"h":-5.87},{"i":60,"m":"C","o":1,"l":-8.2,"h":-6.14},
{"i":61,"m":"C","o":1,"l":-7.04,"h":-4.87},{"i":62,"m":"C","o":0,"l":-7.19,"h":-5.87},{"i":63,"m":"C","o":0,"l":-6.93,"h":-5.03},{"i":64,"m":"C","o":0,"l":-7.04,"h":-5.93},{"i":65,"m":"C","o":0,"l":-5.13,"h":-3.57},{"i":66,"m":"C","o":0,"l":-7.35,"h":-6.03},{"i":67,"m":"C","o":1,"l":-7.78,"h":-5.93},{"i":68,"m":"C","o":1,"l":-8.88,"h":-6.56},{"i":69,"m":"C","o":1,"l":-7.88,"h":-5.93},{"i":70,"m":"C","o":1,"l":-7.35,"h":-5.03},
{"i":71,"m":"C","o":1,"l":-7.46,"h":-5.93},{"i":72,"m":"C","o":1,"l":-8.57,"h":-6.24},{"i":73,"m":"C","o":1,"l":-8.62,"h":-5.45},{"i":74,"m":"C","o":1,"l":-8.09,"h":-6.72},{"i":75,"m":"C","o":1,"l":-7.14,"h":-5.93},{"i":76,"m":"C","o":1,"l":-7.72,"h":-6.14},{"i":77,"m":"C","o":1,"l":-7.78,"h":-5.93},{"i":78,"m":"C","o":1,"l":-8.04,"h":-4.92},{"i":79,"m":"C","o":0,"l":-6.51,"h":-3.85},{"i":80,"m":"C","o":0,"l":-6.93,"h":-5.66},
{"i":81,"m":"C","o":0,"l":-6.24,"h":-4.18},{"i":82,"m":"C","o":0,"l":-7.04,"h":-4.92},{"i":83,"m":"C","o":0,"l":-7.46,"h":-5.93},{"i":84,"m":"C","o":1,"l":-6.03,"h":-3.23},{"i":85,"m":"C","o":1,"l":-8.36,"h":-5.87},{"i":86,"m":"C","o":1,"l":-7.46,"h":-5.03},{"i":87,"m":"C","o":1,"l":-7.78,"h":-3.76},{"i":88,"m":"C","o":1,"l":-6.56,"h":-2.41},{"i":89,"m":"C","o":1,"l":-7.14,"h":-5.34},{"i":90,"m":"C","o":1,"l":-7.99,"h":-5.61},
{"i":91,"m":"C","o":0,"l":-6.93,"h":-6.03},{"i":92,"m":"C","o":1,"l":-8.09,"h":-6.77},{"i":93,"m":"C","o":1,"l":-7.78,"h":-5.71},{"i":94,"m":"C","o":1,"l":-6.61,"h":-4.5},{"i":95,"m":"C","o":1,"l":-8.62,"h":-6.61},{"i":96,"m":"C","o":1,"l":-9.73,"h":-8.25},{"i":97,"m":"C","o":1,"l":-9.1,"h":-7.3},{"i":98,"m":"C","o":1,"l":-8.62,"h":-7.14},{"i":99,"m":"C","o":0,"l":-6.3,"h":-5.13},{"i":100,"m":"C","o":0,"l":-6.51,"h":-5.03},
{"i":101,"m":"A","o":1,"l":-9.99,"h":-1.12},{"i":102,"m":"A","o":0,"l":-9.1,"h":-4.45},{"i":103,"m":"A","o":1,"l":-10.36,"h":-2.81},{"i":104,"m":"A","o":1,"l":-10.68,"h":-3.6},{"i":105,"m":"A","o":1,"l":-10.2,"h":-4.02},{"i":106,"m":"A","o":1,"l":-8.83,"h":-2.97},{"i":107,"m":"A","o":1,"l":-10.31,"h":-4.5},{"i":108,"m":"A","o":1,"l":-10.2,"h":-3.55},{"i":109,"m":"A","o":1,"l":-10.1,"h":-4.55},{"i":110,"m":"A","o":1,"l":-10.63,"h":-4.13},
{"i":111,"m":"A","o":1,"l":-8.94,"h":-5.61},{"i":112,"m":"A","o":1,"l":-9.25,"h":-2.92},{"i":113,"m":"A","o":1,"l":-9.04,"h":-4.55},{"i":114,"m":"A","o":0,"l":-8.99,"h":-4.39},{"i":115,"m":"A","o":1,"l":-9.15,"h":-2.97},{"i":116,"m":"A","o":0,"l":-9.83,"h":-3.87},{"i":117,"m":"A","o":0,"l":-8.83,"h":-3.92},{"i":118,"m":"A","o":0,"l":-9.73,"h":-2.86},{"i":119,"m":"A","o":0,"l":-9.89,"h":-3.97},{"i":120,"m":"A","o":0,"l":-8.73,"h":-5.13},
{"i":121,"m":"A","o":1,"l":-8.62,"h":-2.92},{"i":122,"m":"A","o":1,"l":-9.36,"h":-4.45},{"i":123,"m":"A","o":1,"l":-9.41,"h":-4.98},{"i":124,"m":"A","o":1,"l":-8.83,"h":-2.92},{"i":125,"m":"A","o":1,"l":-9.04,"h":-4.34},{"i":126,"m":"A","o":1,"l":-9.15,"h":-4.29},{"i":127,"m":"A","o":1,"l":-9.68,"h":-3.07},{"i":128,"m":"A","o":1,"l":-9.04,"h":-4.55},{"i":129,"m":"A","o":1,"l":-10.15,"h":-4.29},{"i":130,"m":"A","o":0,"l":-9.2,"h":-4.13},
{"i":131,"m":"A","o":1,"l":-8.04,"h":-2.92},{"i":132,"m":"A","o":1,"l":-9.52,"h":-3.65},{"i":133,"m":"A","o":0,"l":-8.04,"h":-3.18},{"i":134,"m":"A","o":0,"l":-8.09,"h":-3.76},{"i":135,"m":"A","o":0,"l":-8.94,"h":-3.39},{"i":136,"m":"A","o":0,"l":-8.99,"h":-2.86},{"i":137,"m":"A","o":0,"l":-10.94,"h":-3.97},{"i":138,"m":"A","o":1,"l":-8.25,"h":-2.92},{"i":139,"m":"A","o":1,"l":-7.99,"h":-4.34},{"i":140,"m":"A","o":1,"l":-8.3,"h":-3.5},
{"i":141,"m":"A","o":1,"l":-8.62,"h":-2.86},{"i":142,"m":"A","o":1,"l":-8.62,"h":-4.39},{"i":143,"m":"A","o":1,"l":-8.04,"h":-3.34},{"i":144,"m":"A","o":1,"l":-9.36,"h":-3.6},{"i":145,"m":"A","o":1,"l":-10.2,"h":-3.92},{"i":146,"m":"A","o":1,"l":-11.15,"h":-4.5},{"i":147,"m":"A","o":1,"l":-9.25,"h":-5.03},{"i":148,"m":"A","o":1,"l":-8.3,"h":-3.44},{"i":149,"m":"A","o":1,"l":-7.78,"h":-3.39},{"i":150,"m":"A","o":1,"l":-8.3,"h":-2.92}
],
"f":[
{"i":1,"m":"B","o":0,"l":0.97,"h":1.785},{"i":2,"m":"B","o":0,"l":1.0,"h":1.815},{"i":3,"m":"B","o":0,"l":0.85,"h":1.675},{"i":4,"m":"B","o":0,"l":0.51,"h":1.347},{"i":5,"m":"B","o":0,"l":0.51,"h":1.337},{"i":6,"m":"B","o":1,"l":0.85,"h":1.645},{"i":7,"m":"B","o":0,"l":0.46,"h":1.287},{"i":8,"m":"B","o":1,"l":0.51,"h":1.327},{"i":9,"m":"B","o":0,"l":0.62,"h":1.446},{"i":10,"m":"B","o":0,"l":0.65,"h":1.466},
{"i":11,"m":"B","o":1,"l":0.47,"h":1.805},{"i":12,"m":"B","o":0,"l":0.62,"h":1.446},{"i":13,"m":"B","o":0,"l":0.64,"h":1.466},{"i":14,"m":"B","o":0,"l":0.69,"h":1.456},{"i":15,"m":"B","o":0,"l":0.57,"h":1.367},{"i":16,"m":"B","o":0,"l":0.57,"h":1.406},{"i":17,"m":"B","o":1,"l":0.93,"h":1.725},{"i":18,"m":"B","o":1,"l":0.43,"h":1.257},{"i":19,"m":"B","o":1,"l":0.99,"h":1.785},{"i":20,"m":"B","o":1,"l":0.61,"h":1.297},
{"i":21,"m":"B","o":1,"l":0.55,"h":1.436},{"i":22,"m":"B","o":1,"l":0.79,"h":1.875},{"i":23,"m":"B","o":0,"l":0.61,"h":1.396},{"i":24,"m":"B","o":0,"l":0.85,"h":1.615},{"i":25,"m":"B","o":1,"l":0.74,"h":1.625},{"i":26,"m":"B","o":0,"l":0.67,"h":1.456},{"i":27,"m":"B","o":1,"l":0.25,"h":1.406},{"i":28,"m":"B","o":0,"l":0.83,"h":1.605},{"i":29,"m":"B","o":1,"l":0.77,"h":1.645},{"i":30,"m":"B","o":0,"l":0.77,"h":1.565},
{"i":31,"m":"B","o":1,"l":0.65,"h":1.446},{"i":32,"m":"B","o":1,"l":0.62,"h":1.665},{"i":33,"m":"B","o":0,"l":0.95,"h":1.735},{"i":34,"m":"B","o":0,"l":0.85,"h":1.406},{"i":35,"m":"B","o":0,"l":0.72,"h":1.565},{"i":36,"m":"B","o":1,"l":0.84,"h":1.655},{"i":37,"m":"B","o":1,"l":0.51,"h":1.705},{"i":38,"m":"B","o":0,"l":0.83,"h":1.665},{"i":39,"m":"B","o":1,"l":0.45,"h":1.386},{"i":40,"m":"B","o":0,"l":0.65,"h":1.526},
{"i":41,"m":"B","o":0,"l":0.77,"h":1.506},{"i":42,"m":"B","o":1,"l":-0.03,"h":0.79},{"i":43,"m":"B","o":1,"l":0.89,"h":1.745},{"i":44,"m":"B","o":0,"l":0.69,"h":1.386},{"i":45,"m":"B","o":0,"l":0.67,"h":1.486},{"i":46,"m":"B","o":1,"l":0.67,"h":1.675},{"i":47,"m":"B","o":0,"l":0.67,"h":1.446},{"i":48,"m":"B","o":0,"l":0.25,"h":1.127},{"i":49,"m":"B","o":0,"l":0.31,"h":1.476},{"i":50,"m":"B","o":0,"l":0.69,"h":1.526},
{"i":51,"m":"C","o":0,"l":1.03,"h":1.885},{"i":52,"m":"C","o":0,"l":1.0,"h":1.855},{"i":53,"m":"C","o":0,"l":0.51,"h":1.347},{"i":54,"m":"C","o":1,"l":0.45,"h":1.367},{"i":55,"m":"C","o":0,"l":0.56,"h":1.297},{"i":56,"m":"C","o":0,"l":0.51,"h":1.377},{"i":57,"m":"C","o":1,"l":0.51,"h":1.417},{"i":58,"m":"C","o":0,"l":0.5,"h":1.406},{"i":59,"m":"C","o":0,"l":0.91,"h":1.845},{"i":60,"m":"C","o":0,"l":0.61,"h":1.536},
{"i":61,"m":"C","o":0,"l":0.61,"h":1.337},{"i":62,"m":"C","o":0,"l":0.53,"h":1.446},{"i":63,"m":"C","o":0,"l":0.61,"h":1.456},{"i":64,"m":"C","o":0,"l":0.59,"h":1.476},{"i":65,"m":"C","o":1,"l":0.53,"h":1.446},{"i":66,"m":"C","o":1,"l":0.47,"h":1.267},{"i":67,"m":"C","o":1,"l":0.88,"h":1.795},{"i":68,"m":"C","o":1,"l":0.37,"h":1.426},{"i":69,"m":"C","o":1,"l":0.55,"h":1.277},{"i":70,"m":"C","o":1,"l":0.83,"h":1.745},
{"i":71,"m":"C","o":0,"l":0.57,"h":1.586},{"i":72,"m":"C","o":1,"l":0.35,"h":1.885},{"i":73,"m":"C","o":1,"l":0.73,"h":1.556},{"i":74,"m":"C","o":0,"l":0.65,"h":1.506},{"i":75,"m":"C","o":0,"l":0.72,"h":1.446},{"i":76,"m":"C","o":1,"l":0.69,"h":1.596},{"i":77,"m":"C","o":0,"l":0.65,"h":1.476},{"i":78,"m":"C","o":0,"l":0.79,"h":1.625},{"i":79,"m":"C","o":0,"l":0.63,"h":1.466},{"i":80,"m":"C","o":0,"l":0.65,"h":1.546},
{"i":81,"m":"C","o":1,"l":0.49,"h":1.446},{"i":82,"m":"C","o":0,"l":0.93,"h":1.715},{"i":83,"m":"C","o":1,"l":0.73,"h":1.705},{"i":84,"m":"C","o":1,"l":0.8,"h":1.755},{"i":85,"m":"C","o":0,"l":0.56,"h":1.526},{"i":86,"m":"C","o":0,"l":0.65,"h":1.586},{"i":87,"m":"C","o":1,"l":0.79,"h":1.685},{"i":88,"m":"C","o":1,"l":0.7,"h":1.685},{"i":89,"m":"C","o":0,"l":0.65,"h":1.466},{"i":90,"m":"C","o":0,"l":0.81,"h":1.566},
{"i":91,"m":"C","o":1,"l":0.85,"h":1.685},{"i":92,"m":"C","o":1,"l":0.01,"h":1.845},{"i":93,"m":"C","o":0,"l":0.64,"h":1.546},{"i":94,"m":"C","o":0,"l":0.39,"h":1.367},{"i":95,"m":"C","o":0,"l":0.83,"h":1.596},{"i":96,"m":"C","o":0,"l":0.85,"h":1.685},{"i":97,"m":"C","o":0,"l":0.65,"h":1.466},{"i":98,"m":"C","o":0,"l":0.19,"h":1.008},{"i":99,"m":"C","o":0,"l":0.33,"h":1.008},{"i":100,"m":"C","o":0,"l":0.77,"h":1.466},
{"i":101,"m":"A","o":0,"l":0.85,"h":1.895},{"i":102,"m":"A","o":0,"l":0.9,"h":1.685},{"i":103,"m":"A","o":0,"l":0.51,"h":1.386},{"i":104,"m":"A","o":0,"l":0.56,"h":1.297},{"i":105,"m":"A","o":0,"l":0.65,"h":1.347},{"i":106,"m":"A","o":1,"l":0.49,"h":1.386},{"i":107,"m":"A","o":0,"l":0.45,"h":1.287},{"i":108,"m":"A","o":0,"l":0.62,"h":1.367},{"i":109,"m":"A","o":1,"l":0.55,"h":1.347},{"i":110,"m":"A","o":1,"l":0.57,"h":1.526},
{"i":111,"m":"A","o":0,"l":0.62,"h":1.267},{"i":112,"m":"A","o":0,"l":0.57,"h":1.307},{"i":113,"m":"A","o":1,"l":0.67,"h":1.406},{"i":114,"m":"A","o":0,"l":0.65,"h":1.347},{"i":115,"m":"A","o":0,"l":0.61,"h":1.287},{"i":116,"m":"A","o":1,"l":0.73,"h":1.406},{"i":117,"m":"A","o":0,"l":0.77,"h":1.526},{"i":118,"m":"A","o":1,"l":0.42,"h":1.526},{"i":119,"m":"A","o":0,"l":0.57,"h":1.247},{"i":120,"m":"A","o":1,"l":0.85,"h":1.526},
{"i":121,"m":"A","o":0,"l":0.79,"h":1.386},{"i":122,"m":"A","o":1,"l":0.65,"h":1.526},{"i":123,"m":"A","o":0,"l":0.65,"h":1.386},{"i":124,"m":"A","o":0,"l":0.73,"h":1.347},{"i":125,"m":"A","o":0,"l":0.73,"h":1.446},{"i":126,"m":"A","o":1,"l":0.65,"h":1.526},{"i":127,"m":"A","o":1,"l":0.53,"h":1.446},{"i":128,"m":"A","o":1,"l":0.77,"h":1.526},{"i":129,"m":"A","o":0,"l":0.81,"h":1.446},{"i":130,"m":"A","o":0,"l":0.65,"h":1.526},
{"i":131,"m":"A","o":1,"l":0.65,"h":1.526},{"i":132,"m":"A","o":0,"l":0.81,"h":1.386},{"i":133,"m":"A","o":1,"l":0.77,"h":1.526},{"i":134,"m":"A","o":0,"l":0.65,"h":1.486},{"i":135,"m":"A","o":0,"l":0.61,"h":1.446},{"i":136,"m":"A","o":1,"l":0.51,"h":1.287},{"i":137,"m":"A","o":0,"l":0.65,"h":1.526},{"i":138,"m":"A","o":1,"l":0.43,"h":1.426},{"i":139,"m":"A","o":0,"l":0.65,"h":1.347},{"i":140,"m":"A","o":0,"l":0.81,"h":1.267},
{"i":141,"m":"A","o":1,"l":0.03,"h":1.267},{"i":142,"m":"A","o":0,"l":0.75,"h":1.476},{"i":143,"m":"A","o":0,"l":0.69,"h":1.466},{"i":144,"m":"A","o":0,"l":0.67,"h":1.446},{"i":145,"m":"A","o":0,"l":0.85,"h":1.446},{"i":146,"m":"A","o":1,"l":0.47,"h":1.386},{"i":147,"m":"A","o":0,"l":0.71,"h":1.476},{"i":148,"m":"A","o":1,"l":0.27,"h":1.207},{"i":149,"m":"A","o":0,"l":0.35,"h":1.127},{"i":150,"m":"A","o":1,"l":0.69,"h":1.267}
],
"xg":[{"x":25},{"x":75},{"x":125}],
"xd":[{"x":50.5},{"x":100.5}],
"ga":[{"y":2.449},{"y":3.464},{"y":4.472},{"y":5.477},{"y":6.481},{"y":7.483},{"y":8.485},{"y":9.487},{"y":10.488},{"y":11.489},{"y":12.49},{"y":13.491},{"y":14.53}],
"gb":[{"y":1.414},{"y":2.449},{"y":3.464},{"y":4.472},{"y":5.477},{"y":6.573}],
"gc":[{"y":1.414},{"y":2.449},{"y":3.464},{"y":4.472},{"y":5.477},{"y":6.481},{"y":7.483},{"y":8.485},{"y":9.487},{"y":10.488},{"y":11.489},{"y":12.49},{"y":13.491},{"y":14.53}],
"gd":[{"y":-0.00025},{"y":-0.00075},{"y":-0.00125},{"y":-0.00175}],
"ge":[{"y":-1.5},{"y":-4.5},{"y":-7.5},{"y":-10.5}],
"gf":[{"y":0.25},{"y":0.75},{"y":1.25},{"y":1.75}],
"ra":[{"y":5.68}],"rb":[{"y":3.6}],"rc":[{"y":4.14}],"rd":[{"y":-0.001}],"re":[{"y":-6.27}],"rf":[{"y":1.086}]
},
"spacing":20,
"resolve":{"scale":{"color":"independent"}},
"vconcat":[
{"spacing":262,"bounds":"flush","resolve":{"scale":{"color":"independent"}},"hconcat":[
{"width":338,"height":353,"title":{"text":"(a) Spatial range","dx":-16},
"layer":[
{"data":{"name":"xg"},"mark":{"type":"rule","color":"#F3F3F3"},"encoding":{"x":{"field":"x","type":"quantitative","scale":{"domain":[-6.45,157.45],"nice":false,"zero":false}}}},
{"data":{"name":"ga"},"mark":{"type":"rule","color":"#F3F3F3"},"encoding":{"y":{"field":"y","type":"quantitative","scale":{"type":"log","domain":[1.955,14.9],"nice":false,"zero":false}}}},
{"data":{"name":"a"},"mark":{"type":"rule","clip":true},"encoding":{
"x":{"field":"i","type":"quantitative","scale":{"domain":[-6.45,157.45],"nice":false,"zero":false},"axis":{"values":[0,50,100,150],"labels":false,"title":null,"grid":true}},
"y":{"field":"l","type":"quantitative","scale":{"type":"log","domain":[1.955,14.9],"nice":false,"zero":false},"axis":{"values":[2,3,4,5,6,7,8,9,10,11,12,13,14],"format":"d","title":"ρ","titleX":-28}},
"y2":{"field":"h"},
"color":{"field":"m","type":"nominal","scale":{"domain":["A","B","C"],"range":["#E3B23C","#3C3CF0","#F04646"]},"legend":{"title":"Method","orient":"none","legendX":230,"legendY":14,"labelExpr":"datum.label == 'A' ? 'INLA-SPDE' : datum.label == 'B' ? 'IS-MRA (K=4)' : 'IS-MRA (K=6)'"}},
"opacity":{"field":"o","type":"quantitative","scale":{"domain":[0,1],"range":[0.45,1]},"legend":null},
"strokeWidth":{"field":"o","type":"quantitative","scale":{"domain":[0,1],"range":[1.7,1]},"legend":null}}},
{"data":{"name":"ra"},"mark":{"type":"rule","color":"#EE3B3B","strokeDash":[4,3]},"encoding":{"y":{"field":"y","type":"quantitative","scale":{"type":"log","domain":[1.955,14.9],"nice":false,"zero":false}}}},
{"data":{"name":"xd"},"mark":{"type":"rule","color":"#404040","strokeDash":[3,3]},"encoding":{"x":{"field":"x","type":"quantitative","scale":{"domain":[-6.45,157.45],"nice":false,"zero":false}}}}
]},
{"width":337,"height":353,"title":{"text":"(b) Temporal range","dx":-9.5},
"layer":[
{"data":{"name":"xg"},"mark":{"type":"rule","color":"#F3F3F3"},"encoding":{"x":{"field":"x","type":"quantitative","scale":{"domain":[-6.45,154],"nice":false,"zero":false}}}},
{"data":{"name":"gb"},"mark":{"type":"rule","color":"#F3F3F3"},"encoding":{"y":{"field":"y","type":"quantitative","scale":{"type":"log","domain":[0.726,7.83],"nice":false,"zero":false}}}},
{"data":{"name":"b"},"mark":{"type":"rule","clip":true},"encoding":{
"x":{"field":"i","type":"quantitative","scale":{"domain":[-6.45,154],"nice":false,"zero":false},"axis":{"values":[0,50,100,150],"labels":false,"title":null,"grid":true}},
"y":{"field":"l","type":"quantitative","scale":{"type":"log","domain":[0.726,7.83],"nice":false,"zero":false},"axis":{"values":[1,2,3,4,5,6],"format":"d","title":"φ","titleX":-21}},
"y2":{"field":"h"},
"color":{"field":"m","type":"nominal","scale":{"domain":["A","B","C"],"range":["#E3B23C","#3C3CF0","#F04646"]},"legend":{"title":"Method","orient":"none","legendX":236,"legendY":15,"labelExpr":"datum.label == 'A' ? 'INLA-SPDE' : datum.label == 'B' ? 'IS-MRA (K=4)' : 'IS-MRA (K=6)'"}},
"opacity":{"field":"o","type":"quantitative","scale":{"domain":[0,1],"range":[0.45,1]},"legend":null},
"strokeWidth":{"field":"o","type":"quantitative","scale":{"domain":[0,1],"range":[1.7,1]},"legend":null}}},
{"data":{"name":"rb"},"mark":{"type":"rule","color":"#EE3B3B","strokeDash":[4,3]},"encoding":{"y":{"field":"y","type":"quantitative","scale":{"type":"log","domain":[0.726,7.83],"nice":false,"zero":false}}}},
{"data":{"name":"xd"},"mark":{"type":"rule","color":"#404040","strokeDash":[3,3]},"encoding":{"x":{"field":"x","type":"quantitative","scale":{"domain":[-6.45,154],"nice":false,"zero":false}}}}
]}
]},
{"spacing":300,"bounds":"flush","resolve":{"scale":{"color":"independent"}},"hconcat":[
{"width":338,"height":354,"title":{"text":"(c) Std. dev.","dx":-16.5},
"layer":[
{"data":{"name":"xg"},"mark":{"type":"rule","color":"#F3F3F3"},"encoding":{"x":{"field":"x","type":"quantitative","scale":{"domain":[-6.45,157.45],"nice":false,"zero":false}}}},
{"data":{"name":"gc"},"mark":{"type":"rule","color":"#F3F3F3"},"encoding":{"y":{"field":"y","type":"quantitative","scale":{"type":"log","domain":[0.87,19.0],"nice":false,"zero":false}}}},
{"data":{"name":"c"},"mark":{"type":"rule","clip":true},"encoding":{
"x":{"field":"i","type":"quantitative","scale":{"domain":[-6.45,157.45],"nice":false,"zero":false},"axis":{"values":[0,50,100,150],"labels":false,"title":null,"grid":true}},
"y":{"field":"l","type":"quantitative","scale":{"type":"log","domain":[0.87,19.0],"nice":false,"zero":false},"axis":{"values":[1,2,3,4,5,6,7,8,9,10,11,12,13,14],"format":"d","title":"σ","titleX":-29}},
"y2":{"field":"h"},
"color":{"field":"m","type":"nominal","scale":{"domain":["A","B","C"],"range":["#E3B23C","#3C3CF0","#F04646"]},"legend":{"title":"Method","orient":"none","legendX":230,"legendY":16,"labelExpr":"datum.label == 'A' ? 'INLA-SPDE' : datum.label == 'B' ? 'IS-MRA (K=4)' : 'IS-MRA (K=6)'"}},
"opacity":{"field":"o","type":"quantitative","scale":{"domain":[0,1],"range":[0.45,1]},"legend":null},
"strokeWidth":{"field":"o","type":"quantitative","scale":{"domain":[0,1],"range":[1.7,1]},"legend":null}}},
{"data":{"name":"rc"},"mark":{"type":"rule","color":"#EE3B3B","strokeDash":[4,3]},"encoding":{"y":{"field":"y","type":"quantitative","scale":{"type":"log","domain":[0.87,19.0],"nice":false,"zero":false}}}},
{"data":{"name":"xd"},"mark":{"type":"rule","color":"#404040","strokeDash":[3,3]},"encoding":{"x":{"field":"x","type":"quantitative","scale":{"domain":[-6.45,157.45],"nice":false,"zero":false}}}}
]},
{"width":299,"height":354,"title":{"text":"(d) Fixed effect: Elevation","dx":-28.5},
"layer":[
{"data":{"name":"xg"},"mark":{"type":"rule","color":"#F3F3F3"},"encoding":{"x":{"field":"x","type":"quantitative","scale":{"domain":[-6.45,153.2],"nice":false,"zero":false}}}},
{"data":{"name":"gd"},"mark":{"type":"rule","color":"#F3F3F3"},"encoding":{"y":{"field":"y","type":"quantitative","scale":{"domain":[-0.002084,0.0000988],"nice":false,"zero":false}}}},
{"data":{"name":"d"},"mark":{"type":"rule","clip":true},"encoding":{
"x":{"field":"i","type":"quantitative","scale":{"domain":[-6.45,153.2],"nice":false,"zero":false},"axis":{"values":[0,50,100,150],"labels":false,"title":null,"grid":true}},
"y":{"field":"l","type":"quantitative","scale":{"domain":[-0.002084,0.0000988],"nice":false,"zero":false},"axis":{"values":[0,-0.0005,-0.001,-0.0015,-0.002],"labelExpr":"replace(format(datum.value, '.4f'), '−', '-')","title":"β :  Elevation","titleX":-57}},
"y2":{"field":"h"},
"color":{"field":"m","type":"nominal","scale":{"domain":["A","B","C"],"range":["#E3B23C","#3C3CF0","#F04646"]},"legend":{"title":"Method","orient":"none","legendX":203,"legendY":17,"labelExpr":"datum.label == 'A' ? 'INLA-SPDE' : datum.label == 'B' ? 'IS-MRA (K=4)' : 'IS-MRA (K=6)'"}},
"opacity":{"field":"o","type":"quantitative","scale":{"domain":[0,1],"range":[0.45,1]},"legend":null},
"strokeWidth":{"field":"o","type":"quantitative","scale":{"domain":[0,1],"range":[1.7,1]},"legend":null}}},
{"data":{"name":"rd"},"mark":{"type":"rule","color":"#EE3B3B","strokeDash":[4,3]},"encoding":{"y":{"field":"y","type":"quantitative","scale":{"domain":[-0.002084,0.0000988],"nice":false,"zero":false}}}},
{"data":{"name":"xd"},"mark":{"type":"rule","color":"#404040","strokeDash":[3,3]},"encoding":{"x":{"field":"x","type":"quantitative","scale":{"domain":[-6.45,153.2],"nice":false,"zero":false}}}}
]}
]},
{"spacing":275,"bounds":"flush","resolve":{"scale":{"color":"independent"}},"hconcat":[
{"width":338,"height":354,"title":{"text":"(e) Fixed effect: May 28","dx":-16.5},
"layer":[
{"data":{"name":"xg"},"mark":{"type":"rule","color":"#F3F3F3"},"encoding":{"x":{"field":"x","type":"quantitative","scale":{"domain":[-6.45,157.45],"nice":false,"zero":false}}}},
{"data":{"name":"ge"},"mark":{"type":"rule","color":"#F3F3F3"},"encoding":{"y":{"field":"y","type":"quantitative","scale":{"domain":[-11.66,-0.465],"nice":false,"zero":false}}}},
{"data":{"name":"e"},"mark":{"type":"rule","clip":true},"encoding":{
"x":{"field":"i","type":"quantitative","scale":{"domain":[-6.45,157.45],"nice":false,"zero":false},"axis":{"values":[0,50,100,150],"labels":false,"title":null,"grid":true}},
"y":{"field":"l","type":"quantitative","scale":{"domain":[-11.66,-0.465],"nice":false,"zero":false},"axis":{"values":[-3,-6,-9],"labelExpr":"replace(format(datum.value, 'd'), '−', '-')","title":"β :  May 28","titleX":-27}},
"y2":{"field":"h"},
"color":{"field":"m","type":"nominal","scale":{"domain":["A","B","C"],"range":["#E3B23C","#3C3CF0","#F04646"]},"legend":{"title":"Method","orient":"none","legendX":230,"legendY":17,"labelExpr":"datum.label == 'A' ? 'INLA-SPDE' : datum.label == 'B' ? 'IS-MRA (K=4)' : 'IS-MRA (K=6)'"}},
"opacity":{"field":"o","type":"quantitative","scale":{"domain":[0,1],"range":[0.45,1]},"legend":null},
"strokeWidth":{"field":"o","type":"quantitative","scale":{"domain":[0,1],"range":[1.7,1]},"legend":null}}},
{"data":{"name":"re"},"mark":{"type":"rule","color":"#EE3B3B","strokeDash":[4,3]},"encoding":{"y":{"field":"y","type":"quantitative","scale":{"domain":[-11.66,-0.465],"nice":false,"zero":false}}}},
{"data":{"name":"xd"},"mark":{"type":"rule","color":"#404040","strokeDash":[3,3]},"encoding":{"x":{"field":"x","type":"quantitative","scale":{"domain":[-6.45,157.45],"nice":false,"zero":false}}}}
]},
{"width":324,"height":354,"title":{"text":"(f) Fixed effect: Mixed forest","dx":-15.5},
"layer":[
{"data":{"name":"xg"},"mark":{"type":"rule","color":"#F3F3F3"},"encoding":{"x":{"field":"x","type":"quantitative","scale":{"domain":[-6.45,151.8],"nice":false,"zero":false}}}},
{"data":{"name":"gf"},"mark":{"type":"rule","color":"#F3F3F3"},"encoding":{"y":{"field":"y","type":"quantitative","scale":{"domain":[-0.1215,1.988],"nice":false,"zero":false}}}},
{"data":{"name":"f"},"mark":{"type":"rule","clip":true},"encoding":{
"x":{"field":"i","type":"quantitative","scale":{"domain":[-6.45,151.8],"nice":false,"zero":false},"axis":{"values":[0,50,100,150],"labels":false,"title":null,"grid":true}},
"y":{"field":"l","type":"quantitative","scale":{"domain":[-0.1215,1.988],"nice":false,"zero":false},"axis":{"values":[0,0.5,1,1.5],"format":".1f","title":"β :  Mixed forest","titleX":-33}},
"y2":{"field":"h"},
"color":{"field":"m","type":"nominal","scale":{"domain":["A","B","C"],"range":["#E3B23C","#3C3CF0","#F04646"]},"legend":{"title":"Method","orient":"none","legendX":225,"legendY":18,"labelExpr":"datum.label == 'A' ? 'INLA-SPDE' : datum.label == 'B' ? 'IS-MRA (K=4)' : 'IS-MRA (K=6)'"}},
"opacity":{"field":"o","type":"quantitative","scale":{"domain":[0,1],"range":[0.45,1]},"legend":null},
"strokeWidth":{"field":"o","type":"quantitative","scale":{"domain":[0,1],"range":[1.7,1]},"legend":null}}},
{"data":{"name":"rf"},"mark":{"type":"rule","color":"#EE3B3B","strokeDash":[4,3]},"encoding":{"y":{"field":"y","type":"quantitative","scale":{"domain":[-0.1215,1.988],"nice":false,"zero":false}}}},
{"data":{"name":"xd"},"mark":{"type":"rule","color":"#404040","strokeDash":[3,3]},"encoding":{"x":{"field":"x","type":"quantitative","scale":{"domain":[-6.45,151.8],"nice":false,"zero":false}}}}
]}
]}
],
"config":{
"font":"Liberation Sans",
"view":{"stroke":"#B3B3B3","strokeWidth":1},
"axis":{"gridColor":"#E8E8E8","gridWidth":1,"tickColor":"#B3B3B3","tickSize":3,"tickWidth":1,"labelColor":"#4D4D4D","labelFontSize":11.5,"labelPadding":2,"domain":false,"titleFontSize":16,"titleFontWeight":"normal","titleColor":"#000000","titleBaseline":"middle"},
"legend":{"titleFontSize":15,"titleFontWeight":"normal","titleColor":"#000000","labelFontSize":12,"labelColor":"#000000","symbolType":"stroke","symbolStrokeWidth":1.3,"symbolSize":110,"fillColor":"#FFFFFF","padding":2,"rowPadding":0,"titlePadding":6,"labelOffset":8},
"title":{"font":"DejaVu Serif","fontSize":21,"fontWeight":"normal","orient":"bottom","anchor":"middle","frame":"group","offset":36,"color":"#000000"}
}
}
